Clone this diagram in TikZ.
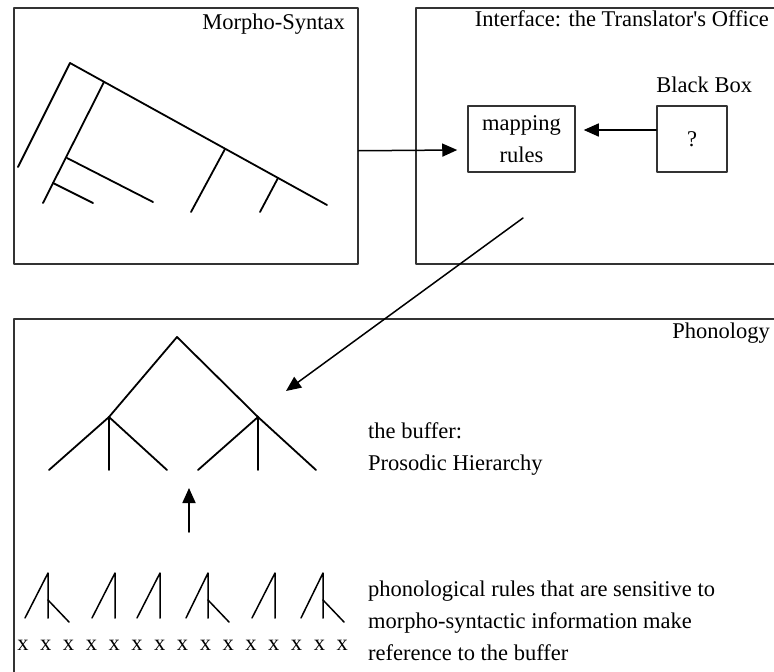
\documentclass[tikz,border=0pt]{standalone}
\usepackage{fontspec}
\setmainfont{Liberation Serif}
\usetikzlibrary{arrows.meta,positioning}
\tikzset{>={Triangle[length=15pt,width=13pt]}}

\begin{document}
\begin{tikzpicture}[x=1pt,y=-1pt,line cap=round,line join=round,
    every node/.style={font=\fontsize{22.5}{32}\selectfont},
    panel/.style={draw=black!80,line width=1.5pt,inner sep=0pt,anchor=north west},
    box/.style={draw=black!80,line width=1.5pt,inner sep=0pt,align=center},
    caption/.style={inner sep=0pt},
    branch/.style={line width=1.8pt},
    link/.style={->,line width=1.5pt}]
\clip (0,0) rectangle (774,672);
% the three panels
\node[panel,minimum width=344pt,minimum height=256pt] (morpho) at (13,7) {};
\node[panel,minimum width=400pt,minimum height=256pt] (iface) at (415,7) {};
\node[panel,minimum width=800pt,minimum height=400pt] (phono) at (13,318) {};
\node[caption,anchor=base east] (morphotitle) at (345,29) {Morpho-Syntax};
\node[caption,anchor=base east] (ifacetitle) at (769,26) {Interface: the Translator\textquotesingle s Office};
\node[caption,anchor=base east] (phonotitle) at (770,338) {Phonology};
% syntactic tree
\draw[branch] (18,167) -- (70,63) -- (327,205);
\draw[branch] (104,82) -- (43,203);
\draw[branch] (67,158) -- (153,202);
\draw[branch] (53,183) -- (93,203);
\draw[branch] (225,149) -- (191,212);
\draw[branch] (278,178) -- (260,212);
% translator's office
\node[box,minimum width=107pt,minimum height=66pt] (mapping) at (521.5,139) {mapping\\rules};
\node[box,minimum width=70pt,minimum height=66pt] (blackbox) at (692,139) {?};
\node[caption,anchor=base west] (bbtitle) at ([yshift=13pt]blackbox.north west) {Black Box};
\draw[link] ([yshift=9pt]blackbox.west) -- ([xshift=8pt,yshift=9pt]mapping.east);
\draw[link] ([yshift=-15pt]morpho.east) -- ([xshift=-10pt,yshift=-11pt]mapping.west);
\coordinate (spellout) at (523,218);
\coordinate (buffertip) at (286,391);
\draw[link] (spellout) -- (buffertip);
% prosodic hierarchy
\draw[branch] (49,470) -- (109,417) -- (177,337) -- (258,417) -- (316,470);
\draw[branch] (109,417) -- (109,470);
\draw[branch] (109,417) -- (167,470);
\draw[branch] (258,417) -- (198,470);
\draw[branch] (258,417) -- (258,470);
\node[caption,anchor=base west,align=left] (buffer) at (368,470) {the buffer:\\Prosodic Hierarchy};
\coordinate (feetbase) at (189,532);
\coordinate (feettop) at (189,488);
\draw[link,line width=1.8pt] (feetbase) -- (feettop);
% feet over the skeleton
\foreach \h/\l in {48/25,115/92,160/137,208/186,275/252,323/301}
  \draw[branch,line width=1.5pt] (\l,618) -- (\h,573) -- (\h,618);
\foreach \h/\r in {48/69,208/229,323/344}
  \draw[branch,line width=1.5pt] (\h,600) -- (\r,622);
\foreach \i in {0,...,14}
  \node[caption,anchor=base] (x\i) at ({23+22.8*\i},650) {x};
\node[caption,anchor=base west,align=left] (rules) at (368,660) {phonological rules that are sensitive to\\morpho-syntactic information make\\reference to the buffer};
\end{tikzpicture}
\end{document}
